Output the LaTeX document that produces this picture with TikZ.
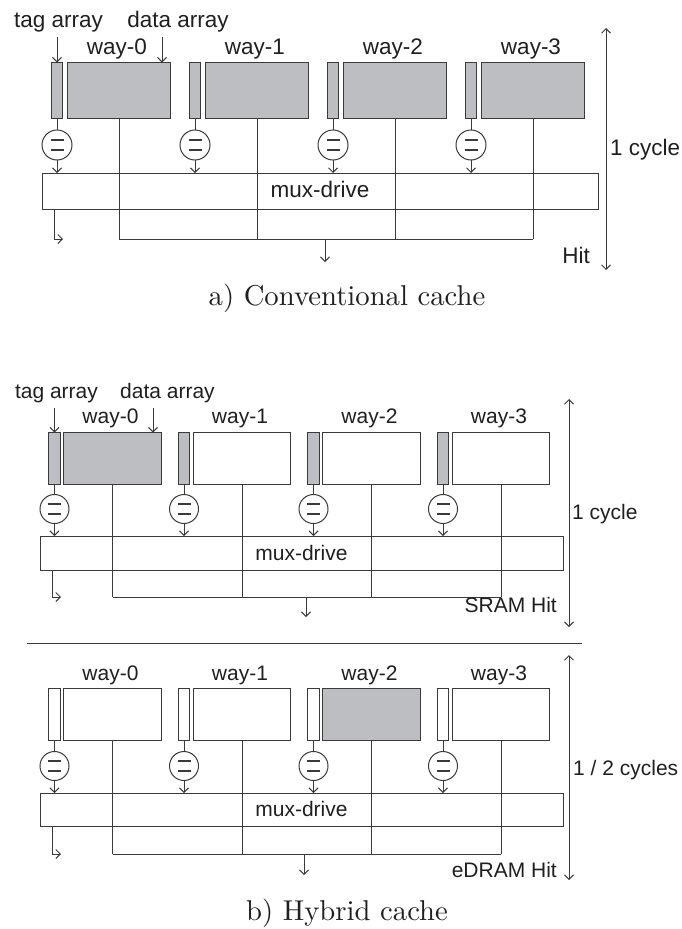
\documentclass[tikz,border=0pt]{standalone}
\usepackage{fontspec}
\usepackage{graphicx}
\usetikzlibrary{arrows.meta}
\newfontfamily\labfont{Liberation Sans}
\definecolor{lc}{RGB}{58,58,58}
\definecolor{gfill}{RGB}{189,190,193}
\tikzset{
  ln/.style={draw=lc, line width=1pt},
  arr/.style={ln, -{Straight Barb[length=4.5pt,width=9pt]}},
  darr/.style={ln, {Straight Barb[length=4.5pt,width=9pt]}-{Straight Barb[length=4.5pt,width=9pt]}},
  cell/.style={draw=lc, line width=1.3pt, inner sep=0pt, outer sep=0pt},
  cellb/.style={draw=lc, line width=1pt, inner sep=0pt, outer sep=0pt},
  muxbox/.style={draw=lc, line width=1pt, inner sep=0pt, outer sep=0pt},
  cmp/.style={circle, draw=lc, line width=1pt, fill=white, inner sep=0pt, outer sep=0pt,
    path picture={\draw[lc, line width=1.7pt]
      ([xshift=-6.5pt,yshift=4.8pt]path picture bounding box.center) -- ++(13pt,0pt)
      ([xshift=-6.5pt,yshift=-4.8pt]path picture bounding box.center) -- ++(13pt,0pt);}},
  laba/.style={font=\labfont\fontsize{22.5}{27}\selectfont, inner sep=0pt, text=black!88},
  labb/.style={font=\labfont\fontsize{21}{25}\selectfont, inner sep=0pt, text=black!88},
  capt/.style={inner sep=0pt, text=black!88},
}
\begin{document}
\begin{tikzpicture}[x=1pt,y=-1pt]
\useasboundingbox (0,0) rectangle (682,929);

% ---------------- panel a: conventional cache ----------------
\coordinate (a-bus) at (0,239);
\node[muxbox, minimum width=556pt, minimum height=36pt] (a-mux) at (320,191) {};
\node[laba, anchor=base] (a-muxl) at (320,197.5) {mux-drive};
\foreach \k in {0,1,2,3} {
  \node[cell, fill=gfill, minimum width=10.7pt, minimum height=55.7pt] (a-t\k) at ({57+138*\k},90.5) {};
  \node[cell, fill=gfill, minimum width=102.7pt, minimum height=55.7pt] (a-d\k) at ({119+138*\k},90.5) {};
  \node[cmp, minimum size=30pt] (a-c\k) at ({57+138*\k},145) {};
  \node[laba, anchor=base] (a-w\k) at ({117+138*\k},54) {way-\k};
  \draw[ln] (a-t\k) -- (a-c\k);
  \draw[arr] (a-c\k) -- (a-c\k |- a-mux.north);
  \draw[ln] (a-d\k) -- (a-d\k |- a-bus);
}
\draw[ln] (a-d0 |- a-bus) -- (a-d3 |- a-bus);
\coordinate (a-out) at (325,262);
\draw[arr] (a-out |- a-bus) -- (a-out);
\coordinate (a-lft) at (54,239);
\draw[arr] (a-lft |- a-mux.south) -- (a-lft) -- ++(9,0);
\node[laba, anchor=base] (a-tagl) at (58.5,27) {tag array};
\node[laba, anchor=base] (a-datal) at (178,27) {data array};
\coordinate (a-dar) at (162,37);
\draw[arr] (a-t0.north |- a-dar) -- (a-t0.north);
\draw[arr] (a-dar) -- (a-dar |- a-d0.north);
\coordinate (a-up) at (606,28);
\coordinate (a-dn) at (606,270);
\draw[darr] (a-up) -- (a-dn);
\node[laba, anchor=base west] (a-cyc) at (610,155) {1 cycle};
\node[laba, anchor=base east] (a-hit) at (590,263) {Hit};
\node[capt, anchor=base] (a-cap) at (347,305) {\scalebox{2.87}{\fontsize{10}{12}\selectfont a) Conventional cache}};

% ---------------- panel b, SRAM part ----------------
\coordinate (s-bus) at (0,597);
\node[muxbox, minimum width=523pt, minimum height=34pt] (s-mux) at (301.5,553) {};
\node[labb, anchor=base] (s-muxl) at (301.5,560) {mux-drive};
\foreach \k/\tf/\df in {0/gfill/gfill,1/gfill/white,2/gfill/white,3/gfill/white} {
  \node[cellb, fill=\tf, minimum width=11.4pt, minimum height=52pt] (s-t\k) at ({54.5+129.5*\k},458.5) {};
  \node[cellb, fill=\df, minimum width=97.4pt, minimum height=52pt] (s-d\k) at ({112.5+129.5*\k},458.5) {};
  \node[cmp, minimum size=29pt] (s-c\k) at ({54.5+129.5*\k},509) {};
  \node[labb, anchor=base] (s-w\k) at ({110.5+129.5*\k},423) {way-\k};
  \draw[ln] (s-t\k) -- (s-c\k);
  \draw[arr] (s-c\k) -- (s-c\k |- s-mux.north);
  \draw[ln] (s-d\k) -- (s-d\k |- s-bus);
}
\draw[ln] (s-d0 |- s-bus) -- (s-d3 |- s-bus);
\coordinate (s-out) at (306,617);
\draw[arr] (s-out |- s-bus) -- (s-out);
\coordinate (s-lft) at (52,597);
\draw[arr] (s-lft |- s-mux.south) -- (s-lft) -- ++(9,0);
\node[labb, anchor=base] (s-tagl) at (56.5,398) {tag array};
\node[labb, anchor=base] (s-datal) at (167.5,398) {data array};
\coordinate (s-dar) at (153,408);
\draw[arr] (s-t0.north |- s-dar) -- (s-t0.north);
\draw[arr] (s-dar) -- (s-dar |- s-d0.north);
\coordinate (s-up) at (569,399);
\coordinate (s-dn) at (569,627);
\draw[darr] (s-up) -- (s-dn);
\node[labb, anchor=base west] (s-cyc) at (572,519) {1 cycle};
\node[labb, anchor=base east] (s-hit) at (557,612) {SRAM Hit};

% separator
\coordinate (sep-l) at (27,643);
\coordinate (sep-r) at (582,643);
\draw[ln] (sep-l) -- (sep-r);

% ---------------- panel b, eDRAM part ----------------
\coordinate (e-bus) at (0,854);
\node[muxbox, minimum width=523pt, minimum height=33pt] (e-mux) at (301.5,809.5) {};
\node[labb, anchor=base] (e-muxl) at (301.5,816) {mux-drive};
\foreach \k/\tf/\df in {0/white/white,1/white/white,2/white/gfill,3/white/white} {
  \node[cellb, fill=\tf, minimum width=11.4pt, minimum height=52pt] (e-t\k) at ({54.5+129.5*\k},714.5) {};
  \node[cellb, fill=\df, minimum width=97.4pt, minimum height=52pt] (e-d\k) at ({112.5+129.5*\k},714.5) {};
  \node[cmp, minimum size=29pt] (e-c\k) at ({54.5+129.5*\k},766) {};
  \node[labb, anchor=base] (e-w\k) at ({110.5+129.5*\k},680) {way-\k};
  \draw[ln] (e-t\k) -- (e-c\k);
  \draw[arr] (e-c\k) -- (e-c\k |- e-mux.north);
  \draw[ln] (e-d\k) -- (e-d\k |- e-bus);
}
\draw[ln] (e-d0 |- e-bus) -- (e-d3 |- e-bus);
\coordinate (e-out) at (304,875);
\draw[arr] (e-out |- e-bus) -- (e-out);
\coordinate (e-lft) at (52,854);
\draw[arr] (e-lft |- e-mux.south) -- (e-lft) -- ++(9,0);
\coordinate (e-up) at (569,655);
\coordinate (e-dn) at (569,880);
\draw[darr] (e-up) -- (e-dn);
\node[labb, anchor=base west] (e-cyc) at (573,775) {1 / 2 cycles};
\node[labb, anchor=base east] (e-hit) at (557,877) {eDRAM Hit};
\node[capt, anchor=base] (b-cap) at (347,920) {\scalebox{2.87}{\fontsize{10}{12}\selectfont b) Hybrid cache}};
\end{tikzpicture}
\end{document}
